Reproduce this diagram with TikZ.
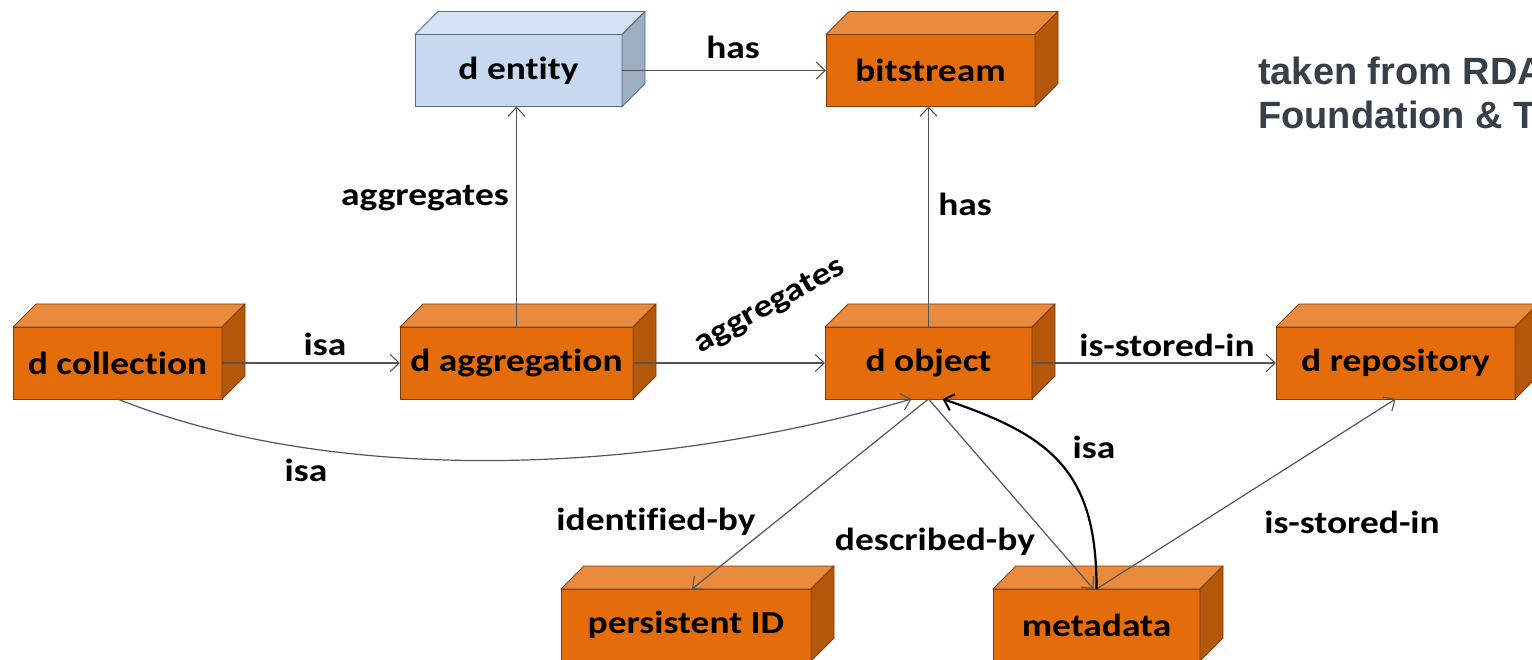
\documentclass[tikz,border=0pt]{standalone}
\usepackage{fontspec}
\setmainfont{Carlito}
\newfontfamily\labfont{Carlito}[FakeStretch=1.17, Ligatures=NoCommon]
\newfontfamily\notefont{Liberation Sans}
\usetikzlibrary{arrows.meta}
\definecolor{ofront}{HTML}{E46C0A}
\definecolor{otop}{HTML}{E98A3C}
\definecolor{oside}{HTML}{B45709}
\definecolor{oline}{HTML}{7A3E0C}
\definecolor{bfront}{HTML}{C6D9F1}
\definecolor{btop}{HTML}{D3E2F5}
\definecolor{bside}{HTML}{9DADC2}
\definecolor{bline}{HTML}{5E6B78}
\definecolor{edgecol}{HTML}{555555}
\definecolor{notecol}{HTML}{36404A}
\tikzset{
  cube/.style={draw=oline, fill=ofront, line width=0.9pt, inner sep=0pt, outer sep=0pt,
    minimum height=72pt, font=\labfont\bfseries\fontsize{32}{36}\selectfont},
  bluecube/.style={cube, draw=bline, fill=bfront},
  conn/.style={draw=edgecol, line width=1.2pt, -{Straight Barb[length=9pt,width=17pt,line width=1.1pt]}},
  thickconn/.style={draw=black, line width=2.2pt, -{Straight Barb[length=9pt,width=17pt,line width=2pt]}},
  elabel/.style={font=\labfont\bfseries\fontsize{32}{36}\selectfont, inner sep=0pt},
  notetext/.style={anchor=base west, inner sep=0pt, text=notecol, font=\notefont\bfseries\fontsize{38}{44}\selectfont},
}
\newcommand{\cubeparts}[4]{%
  \filldraw[fill=#2, draw=#4, line width=0.9pt, line join=round] (#1.north west) -- ++(23,-23) -- ([shift={(23,-23)}]#1.north east) -- (#1.north east) -- cycle;
  \filldraw[fill=#3, draw=#4, line width=0.9pt, line join=round] (#1.north east) -- ++(23,-23) -- ([shift={(23,-23)}]#1.south east) -- (#1.south east) -- cycle;
}
\begin{document}
\begin{tikzpicture}[x=1pt, y=-1pt]
\useasboundingbox (0,0) rectangle (1532,660);
% boxes
\node[bluecube, minimum width=207pt] (entity) at (518.5,70.5) {d entity};
\cubeparts{entity}{btop}{bside}{bline}
\node[cube, minimum width=209pt] (bitstream) at (930.5,70.5) {bitstream};
\cubeparts{bitstream}{otop}{oside}{oline}
\node[cube, minimum width=209pt] (coll) at (117.5,363) {d collection};
\cubeparts{coll}{otop}{oside}{oline}
\node[cube, minimum width=233pt] (aggr) at (516.5,363) {d aggregation};
\cubeparts{aggr}{otop}{oside}{oline}
\node[cube, minimum width=207pt] (obj) at (928.5,363) {d object};
\cubeparts{obj}{otop}{oside}{oline}
\node[cube, minimum width=239pt] (repo) at (1395.5,363) {d repository};
\cubeparts{repo}{otop}{oside}{oline}
\node[cube, minimum width=250pt] (pid) at (686,625) {persistent ID};
\cubeparts{pid}{otop}{oside}{oline}
\node[cube, minimum width=207pt] (meta) at (1096.5,625) {metadata};
\cubeparts{meta}{otop}{oside}{oline}
% note
\node[notetext] (note1) at (1258,85) {taken from RDA};
\node[notetext] (note2) at (1258,129) {Foundation \& T};
% connectors
\draw[conn] (entity.east) -- (bitstream.west);
\draw[conn] (aggr.north) -- (aggr.north |- entity.south);
\draw[conn] (obj.north) -- (obj.north |- bitstream.south);
\draw[conn] (coll.east) -- (aggr.west);
\draw[conn] (aggr.east) -- (obj.west);
\draw[conn] (obj.east) -- (repo.west);
\draw[conn] (coll.south) .. controls (330,484) and (640,478) .. ([xshift=-17pt]obj.south);
\draw[conn] (obj.south) -- ([xshift=6pt]pid.north);
\draw[conn] (obj.south) -- ([xshift=-3pt]meta.north);
\draw[conn] (meta.north) -- (repo.south);
\draw[thickconn] (meta.north) .. controls (1097,470) and (1050,435) .. ([xshift=14pt]obj.south);
% labels
\node[elabel] (l1) at (733,47) {has};
\node[elabel] (l2) at (425,198) {aggregates};
\node[elabel] (l3) at (965,204) {has};
\node[elabel] (l4) at (325,344) {isa};
\node[elabel, rotate=29] (l5) at (770,306) {aggregates};
\node[elabel] (l6) at (1167,345) {is-stored-in};
\node[elabel] (l7) at (306,470) {isa};
\node[elabel] (l8) at (1094,447) {isa};
\node[elabel] (l9) at (656,522) {identified-by};
\node[elabel] (l10) at (935,542) {described-by};
\node[elabel] (l11) at (1352,522) {is-stored-in};
\end{tikzpicture}
\end{document}
